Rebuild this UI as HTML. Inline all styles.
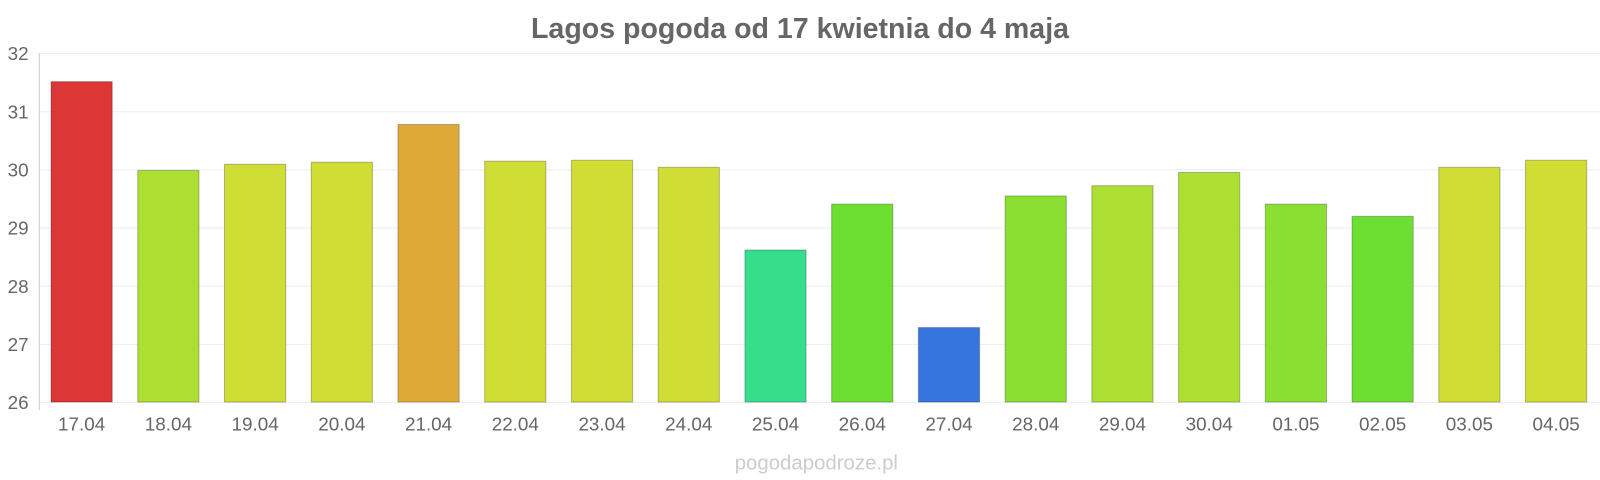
<!DOCTYPE html>
<html><head><meta charset="utf-8"><style>
body{margin:0;background:#fff;}
svg text{font-family:"Liberation Sans",sans-serif;}
</style></head><body>
<svg width="1600" height="480" viewBox="0 0 1568 470.4" xmlns="http://www.w3.org/2000/svg" style="display:block">
<text x="784" y="37" text-anchor="middle" font-size="28" font-weight="bold" fill="#666">Lagos pogoda od 17 kwietnia do 4 maja</text>
<g stroke="#eee" stroke-width="1">
<line x1="38" x2="1568" y1="52.5" y2="52.5"/><line x1="38" x2="1568" y1="109.5" y2="109.5"/>
<line x1="38" x2="1568" y1="166.5" y2="166.5"/><line x1="38" x2="1568" y1="223.5" y2="223.5"/>
<line x1="38" x2="1568" y1="280.5" y2="280.5"/><line x1="38" x2="1568" y1="337.5" y2="337.5"/>
<line x1="38" x2="1568" y1="394.5" y2="394.5"/>
</g>
<line x1="38.5" x2="38.5" y1="52" y2="402" stroke="#ccc"/>
<g font-size="18.5" fill="#666" text-anchor="end">
<text x="28" y="59">32</text><text x="28" y="116">31</text><text x="28" y="173">30</text>
<text x="28" y="230">29</text><text x="28" y="287">28</text><text x="28" y="344">27</text><text x="28" y="401">26</text>
</g>
<g stroke-width="1" stroke-opacity="0.25" stroke="#000">
<rect x="50" y="80" width="60" height="314" fill="#dd3636"/>
<rect x="135" y="167" width="60" height="227" fill="#addf33"/>
<rect x="220" y="161" width="60" height="233" fill="#cfdd35"/>
<rect x="305" y="159" width="60" height="235" fill="#cfdd35"/>
<rect x="390" y="122" width="60" height="272" fill="#dea936"/>
<rect x="475" y="158" width="60" height="236" fill="#cfdd35"/>
<rect x="560" y="157" width="60" height="237" fill="#cfdd35"/>
<rect x="645" y="164" width="60" height="230" fill="#cfdd35"/>
<rect x="730" y="245" width="60" height="149" fill="#36dd8a"/>
<rect x="815" y="200" width="60" height="194" fill="#6ddf33"/>
<rect x="900" y="321" width="60" height="73" fill="#3575dd"/>
<rect x="985" y="192" width="60" height="202" fill="#8bdf33"/>
<rect x="1070" y="182" width="60" height="212" fill="#addf33"/>
<rect x="1155" y="169" width="60" height="225" fill="#addf33"/>
<rect x="1240" y="200" width="60" height="194" fill="#8bdf33"/>
<rect x="1325" y="212" width="60" height="182" fill="#6ddf33"/>
<rect x="1410" y="164" width="60" height="230" fill="#cfdd35"/>
<rect x="1495" y="157" width="60" height="237" fill="#cfdd35"/>
</g>
<g font-size="18.5" fill="#666" text-anchor="middle">
<text x="80" y="422">17.04</text><text x="165" y="422">18.04</text><text x="250" y="422">19.04</text>
<text x="335" y="422">20.04</text><text x="420" y="422">21.04</text><text x="505" y="422">22.04</text>
<text x="590" y="422">23.04</text><text x="675" y="422">24.04</text><text x="760" y="422">25.04</text>
<text x="845" y="422">26.04</text><text x="930" y="422">27.04</text><text x="1015" y="422">28.04</text>
<text x="1100" y="422">29.04</text><text x="1185" y="422">30.04</text><text x="1270" y="422">01.05</text>
<text x="1355" y="422">02.05</text><text x="1440" y="422">03.05</text><text x="1525" y="422">04.05</text>
</g>
<text x="800" y="460" text-anchor="middle" font-size="20" fill="#ccc">pogodapodroze.pl</text>
</svg>
</body></html>
